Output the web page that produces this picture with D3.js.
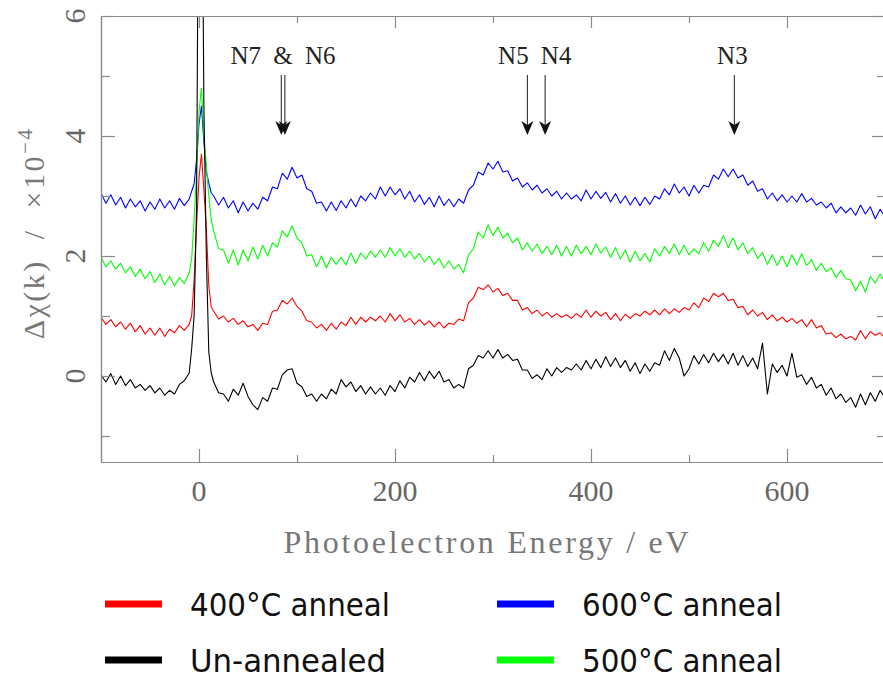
<!DOCTYPE html>
<html>
<head>
<meta charset="utf-8">
<script src="https://cdn.jsdelivr.net/npm/d3@7"></script>
<style>
  body { margin: 0; background: #fff; }
</style>
</head>
<body>
<div id="chart"></div>
<script>
// photoelectron energy grid (eV), finer round the edge peak at 0
var energy = [].concat(d3.range(-100, -10, 5), [-10, -7.5, -5, -2.5, 0, 2.5, 5, 7.5, 10, 12.5], d3.range(15, 701, 5));

// delta chi(k), units of 1e-4
var anneal600 = [
  3.05, 2.88, 3.02, 2.85, 2.98, 2.8, 2.95, 2.82, 2.92, 2.75, 2.9, 2.78, 2.95, 2.8, 2.92, 2.78, 2.96, 2.84,
  2.95, 3.08, 3.2, 3.6, 4.2, 4.5, 3.9, 3.4, 3.22, 3.05,
  3.0, 2.85, 2.98, 2.8, 2.92, 2.72, 2.9, 2.75, 2.88, 2.78,
  2.98, 2.92, 3.15, 3.12, 3.38, 3.28, 3.48, 3.3, 3.35, 3.12,
  3.08, 2.88, 2.9, 2.75, 2.9, 2.76, 2.92, 2.8, 2.95, 2.82,
  3.0, 2.92, 3.05, 2.95, 3.15, 3.0, 3.15, 3.02, 3.12, 2.95,
  3.08, 2.9, 3.02, 2.86, 2.98, 2.82, 3.0, 2.84, 2.95, 2.82,
  2.95, 2.88, 3.1, 3.18, 3.4, 3.35, 3.55, 3.45, 3.58, 3.4,
  3.42, 3.25, 3.3, 3.15, 3.22, 3.1, 3.18, 3.05, 3.12, 3.0,
  3.08, 2.95, 3.05, 2.95, 3.02, 2.92, 3.1, 2.95, 3.08, 2.96,
  3.06, 2.9, 3.04, 2.88, 3.0, 2.85, 2.98, 2.84, 2.98, 2.86,
  3.0, 2.95, 3.12, 3.02, 3.2, 3.05, 3.15, 3.0, 3.18, 3.05,
  3.18, 3.15, 3.35, 3.28, 3.45, 3.32, 3.45, 3.3, 3.35, 3.18,
  3.25, 3.08, 3.12, 2.95, 3.05, 2.92, 3.02, 2.9, 3.0, 2.9,
  3.04, 2.9, 2.96, 2.85, 2.9, 2.8, 2.88, 2.72, 2.82, 2.72,
  2.8, 2.68, 2.85, 2.7, 2.82, 2.62, 2.78, 2.65
];
var anneal500 = [
  1.98, 1.82, 1.92, 1.78, 1.88, 1.72, 1.82, 1.66, 1.78, 1.62, 1.74, 1.56, 1.7, 1.52, 1.66, 1.5, 1.64, 1.54,
  1.72, 1.95, 2.6, 3.4, 4.4, 4.8, 4.0, 3.5, 3.0, 2.6,
  2.42, 2.12, 2.1, 1.88, 2.1, 1.85, 2.1, 1.92, 2.15, 1.95,
  2.18, 2.0, 2.22, 2.15, 2.42, 2.32, 2.5, 2.3, 2.22, 2.0,
  2.02, 1.82, 2.0, 1.8, 1.98, 1.86, 1.98, 1.85, 2.05, 1.88,
  2.05, 1.95, 2.08, 1.98, 2.1, 1.98, 2.14, 2.0, 2.12, 1.98,
  2.08, 1.95, 2.04, 1.9, 2.0, 1.86, 1.96, 1.8, 1.92, 1.78,
  1.86, 1.72, 2.02, 2.12, 2.4, 2.3, 2.52, 2.34, 2.48, 2.3,
  2.38, 2.22, 2.3, 2.1, 2.22, 2.08, 2.2, 2.04, 2.16, 2.02,
  2.18, 2.0, 2.16, 2.0, 2.18, 2.04, 2.16, 2.02, 2.2, 2.05,
  2.15, 1.98, 2.14, 1.95, 2.1, 1.9, 2.08, 1.92, 2.04, 1.9,
  2.12, 2.0, 2.16, 2.04, 2.2, 2.02, 2.18, 2.02, 2.12, 2.04,
  2.22, 2.08, 2.26, 2.16, 2.34, 2.14, 2.3, 2.1, 2.22, 2.04,
  2.14, 1.96, 2.06, 1.86, 2.02, 1.84, 2.0, 1.82, 2.02, 1.85,
  2.04, 1.84, 1.94, 1.76, 1.88, 1.74, 1.8, 1.64, 1.76, 1.62,
  1.6, 1.42, 1.58, 1.4, 1.66, 1.55, 1.7, 1.56
];
var anneal400 = [
  0.98, 0.86, 0.94, 0.82, 0.9, 0.78, 0.88, 0.74, 0.84, 0.7, 0.8, 0.68, 0.8, 0.66, 0.78, 0.72, 0.84, 0.76,
  0.86, 1.0, 1.6, 2.5, 3.3, 3.7, 3.1, 2.45, 1.5, 1.15,
  1.08, 0.95, 1.0, 0.9, 0.96, 0.86, 0.92, 0.82, 0.86, 0.76,
  0.88, 0.86, 1.08, 1.1, 1.26, 1.2, 1.3, 1.16, 1.08, 0.92,
  0.9, 0.8, 0.86, 0.76, 0.88, 0.78, 0.9, 0.84, 0.98, 0.86,
  0.98, 0.9, 0.98, 0.92, 1.0, 0.9, 1.04, 0.92, 1.02, 0.9,
  0.96, 0.86, 0.94, 0.85, 0.92, 0.82, 0.9, 0.8, 0.88, 0.86,
  0.95, 0.92, 1.22, 1.3, 1.48, 1.44, 1.52, 1.4, 1.46, 1.34,
  1.38, 1.26, 1.26, 1.1, 1.14, 1.04, 1.1, 1.0, 1.06, 0.98,
  1.04, 0.98, 1.02, 0.96, 1.04, 0.98, 1.1, 0.98, 1.08, 1.0,
  1.06, 0.94, 1.04, 0.92, 1.03, 0.96, 1.04, 1.0, 1.08, 1.02,
  1.1, 1.02, 1.12, 1.04, 1.12, 1.06, 1.14, 1.1, 1.22, 1.14,
  1.3, 1.24, 1.38, 1.32, 1.38, 1.26, 1.28, 1.14, 1.16, 1.02,
  1.1, 1.0, 1.06, 0.94, 1.02, 0.92, 0.98, 0.9, 0.96, 0.88,
  0.94, 0.82, 0.94, 0.8, 0.84, 0.7, 0.72, 0.64, 0.7, 0.62,
  0.66, 0.6, 0.76, 0.62, 0.74, 0.68, 0.72, 0.64
];
var unannealed = [
  0.02, -0.1, 0.04, -0.14, 0.0, -0.16, -0.06, -0.2, -0.14, -0.24, -0.16, -0.28, -0.2, -0.32, -0.24, -0.3, -0.14, -0.08,
  0.05, 0.45, 1.0, 2.8, 10, 10, 4.5, 2.0, 0.4, 0.05,
  -0.1, -0.28, -0.3, -0.42, -0.22, -0.32, -0.12, -0.34, -0.48, -0.56,
  -0.36, -0.42, -0.2, -0.22, 0.02, 0.1, 0.12, -0.12, -0.18, -0.34,
  -0.3, -0.42, -0.3, -0.38, -0.22, -0.3, -0.06, -0.18, -0.1, -0.26,
  -0.16, -0.3, -0.18, -0.3, -0.2, -0.32, -0.16, -0.26, -0.08, -0.2,
  -0.02, -0.1, 0.06, -0.08, 0.08, -0.04, 0.08, -0.1, -0.06, -0.2,
  -0.14, -0.2, 0.12, 0.18, 0.34, 0.3, 0.42, 0.3, 0.44, 0.3,
  0.36, 0.26, 0.28, 0.1, 0.1, -0.04, 0.02, -0.06, 0.12, 0.0,
  0.14, 0.06, 0.14, 0.1, 0.2, 0.1, 0.26, 0.12, 0.28, 0.14,
  0.32, 0.16, 0.3, 0.14, 0.26, 0.08, 0.22, 0.04, 0.2, 0.08,
  0.22, 0.18, 0.42, 0.26, 0.46, 0.3, 0.0, 0.12, 0.34, 0.2,
  0.36, 0.22, 0.38, 0.24, 0.36, 0.2, 0.38, 0.18, 0.34, 0.16,
  0.3, 0.12, 0.55, -0.3, 0.2, 0.06, 0.18, 0.0, 0.38, -0.02,
  0.02, -0.14, -0.02, -0.2, -0.14, -0.32, -0.2, -0.38, -0.3, -0.44,
  -0.36, -0.52, -0.3, -0.48, -0.28, -0.42, -0.24, -0.36
];

var seriesNames = ["600°C anneal", "500°C anneal", "400°C anneal", "Un-annealed"];
var seriesColors = ["#0000ff", "#00ff00", "#ff0000", "#000000"];

// absorption edges marked with arrows (eV)
var edgeEnergy = [84.0, 87.6, 335.1, 353.2, 546.3];
var edgeLabels = ["N7 & N6", "N5", "N4", "N3"];
var edgeLabelAt = [85.8, 335.1, 353.2, 546.3];

var xMajor = [0, 200, 400, 600];
var xMinor = [100, 300, 500, 700];
var yMajor = [0, 2, 4, 6];
var yMinor = [-1, 1, 3, 5];

// legend reads row by row: left column then right column
var legendOrder = ["400°C anneal", "600°C anneal", "Un-annealed", "500°C anneal"];

(function () {
    var width = 883, height = 679;
    var left = 101, right = 885, top = 16, bottom = 462;
    var grey = "#8a8a8a";
    var serif = "'Liberation Serif', 'DejaVu Serif', serif";

    var svg = d3.select("#chart").append("svg")
        .attr("width", width)
        .attr("height", height);

    var x = d3.scaleLinear().domain([-100, 700]).range([left, right]);
    var y = d3.scaleLinear().domain([-1.433, 6]).range([bottom, top]);

    svg.append("clipPath").attr("id", "plotClip")
        .append("rect")
        .attr("x", left).attr("y", top)
        .attr("width", right - left).attr("height", bottom - top);

    // traces
    var line = d3.line()
        .x(function (d, i) { return x(energy[i]); })
        .y(function (d) { return y(d); });

    var data = [anneal600, anneal500, anneal400, unannealed];
    svg.append("g").attr("clip-path", "url(#plotClip)")
        .selectAll("path")
        .data(data)
        .enter().append("path")
        .attr("d", line)
        .attr("fill", "none")
        .attr("stroke", function (d, i) { return seriesColors[i]; })
        .attr("stroke-width", 1.1)
        .attr("stroke-linejoin", "round");

    // frame with inward ticks on all four sides
    function tidy(g) {
        g.select(".domain").attr("stroke", grey).attr("stroke-width", 1.2);
        g.selectAll(".tick line").attr("stroke", grey).attr("stroke-width", 1.2);
        g.selectAll(".tick text").remove();
    }
    function frame(axisFn, scale, values, size, transform) {
        svg.append("g")
            .attr("transform", transform)
            .call(axisFn(scale).tickValues(values).tickSizeInner(-size).tickSizeOuter(0).tickFormat(""))
            .call(tidy);
    }
    frame(d3.axisBottom, x, xMajor, 13, "translate(0," + bottom + ")");
    frame(d3.axisBottom, x, xMinor, 7, "translate(0," + bottom + ")");
    frame(d3.axisTop, x, xMajor, 12, "translate(0," + top + ")");
    frame(d3.axisTop, x, xMinor, 7, "translate(0," + top + ")");
    frame(d3.axisLeft, y, yMajor, 14, "translate(" + left + ",0)");
    frame(d3.axisLeft, y, yMinor, 9, "translate(" + left + ",0)");
    frame(d3.axisRight, y, yMajor, 13, "translate(" + right + ",0)");
    frame(d3.axisRight, y, yMinor, 8, "translate(" + right + ",0)");

    // tick labels
    svg.append("g").selectAll("text")
        .data(xMajor)
        .enter().append("text")
        .attr("x", function (d) { return x(d); })
        .attr("y", 501)
        .attr("text-anchor", "middle")
        .attr("font-family", serif)
        .attr("font-size", 30)
        .attr("fill", "#666")
        .text(function (d) { return d; });

    svg.append("g").selectAll("text")
        .data(yMajor)
        .enter().append("text")
        .attr("transform", function (d) { return "translate(74," + y(d) + ") rotate(-90)"; })
        .attr("dy", "0.35em")
        .attr("text-anchor", "middle")
        .attr("font-family", serif)
        .attr("font-size", 30)
        .attr("fill", "#666")
        .text(function (d) { return d; });

    // axis titles
    svg.append("text")
        .attr("x", 486)
        .attr("y", 553)
        .attr("text-anchor", "middle")
        .attr("font-family", serif)
        .attr("font-size", 32)
        .attr("fill", "#777")
        .attr("textLength", 405)
        .attr("lengthAdjust", "spacing")
        .text("Photoelectron Energy / eV");

    var yt = svg.append("text")
        .attr("transform", "translate(33,233) rotate(-90)")
        .attr("dy", "0.35em")
        .attr("text-anchor", "middle")
        .attr("font-family", serif)
        .attr("font-size", 30)
        .attr("fill", "#777")
        .attr("letter-spacing", 2.5)
        .attr("xml:space", "preserve");
    yt.append("tspan").text("Δχ(k)  /  ×10");
    yt.append("tspan").attr("dy", "-0.55em").attr("font-size", 21).text("−4");

    // edge arrows
    var arrows = svg.append("g");
    edgeEnergy.forEach(function (e) {
        var ax = x(e);
        arrows.append("line")
            .attr("x1", ax).attr("x2", ax)
            .attr("y1", 75).attr("y2", 128)
            .attr("stroke", "#333").attr("stroke-width", 1.1);
        arrows.append("path")
            .attr("d", "M" + ax + ",135 L" + (ax - 6) + ",121 L" + ax + ",125 L" + (ax + 6) + ",121 Z")
            .attr("fill", "#111");
    });
    var labelShift = [0, -14, 11, -2];
    svg.append("g").selectAll("text")
        .data(edgeLabels)
        .enter().append("text")
        .attr("x", function (d, i) { return x(edgeLabelAt[i]) + labelShift[i]; })
        .attr("y", 64)
        .attr("text-anchor", "middle")
        .attr("font-family", serif)
        .attr("font-size", 25)
        .attr("fill", "#222")
        .attr("word-spacing", 6)
        .text(function (d) { return d; });

    // legend, two columns
    var legend = svg.append("g");
    legendOrder.forEach(function (name, k) {
        var i = seriesNames.indexOf(name);
        var col = k % 2, row = Math.floor(k / 2);
        var lx = col === 0 ? 105 : 497;
        var ly = 604 + row * 56;
        legend.append("line")
            .attr("x1", lx).attr("x2", lx + 57)
            .attr("y1", ly).attr("y2", ly)
            .attr("stroke", seriesColors[i])
            .attr("stroke-width", 7);
        legend.append("text")
            .attr("x", lx + 85)
            .attr("y", ly + 12)
            .attr("font-family", "'DejaVu Sans', sans-serif")
            .attr("font-size", 32)
            .attr("fill", "#111")
            .attr("textLength", name === "Un-annealed" ? 196 : 200)
            .attr("lengthAdjust", "spacingAndGlyphs")
            .text(name);
    });
}());
</script>
</body>
</html>
